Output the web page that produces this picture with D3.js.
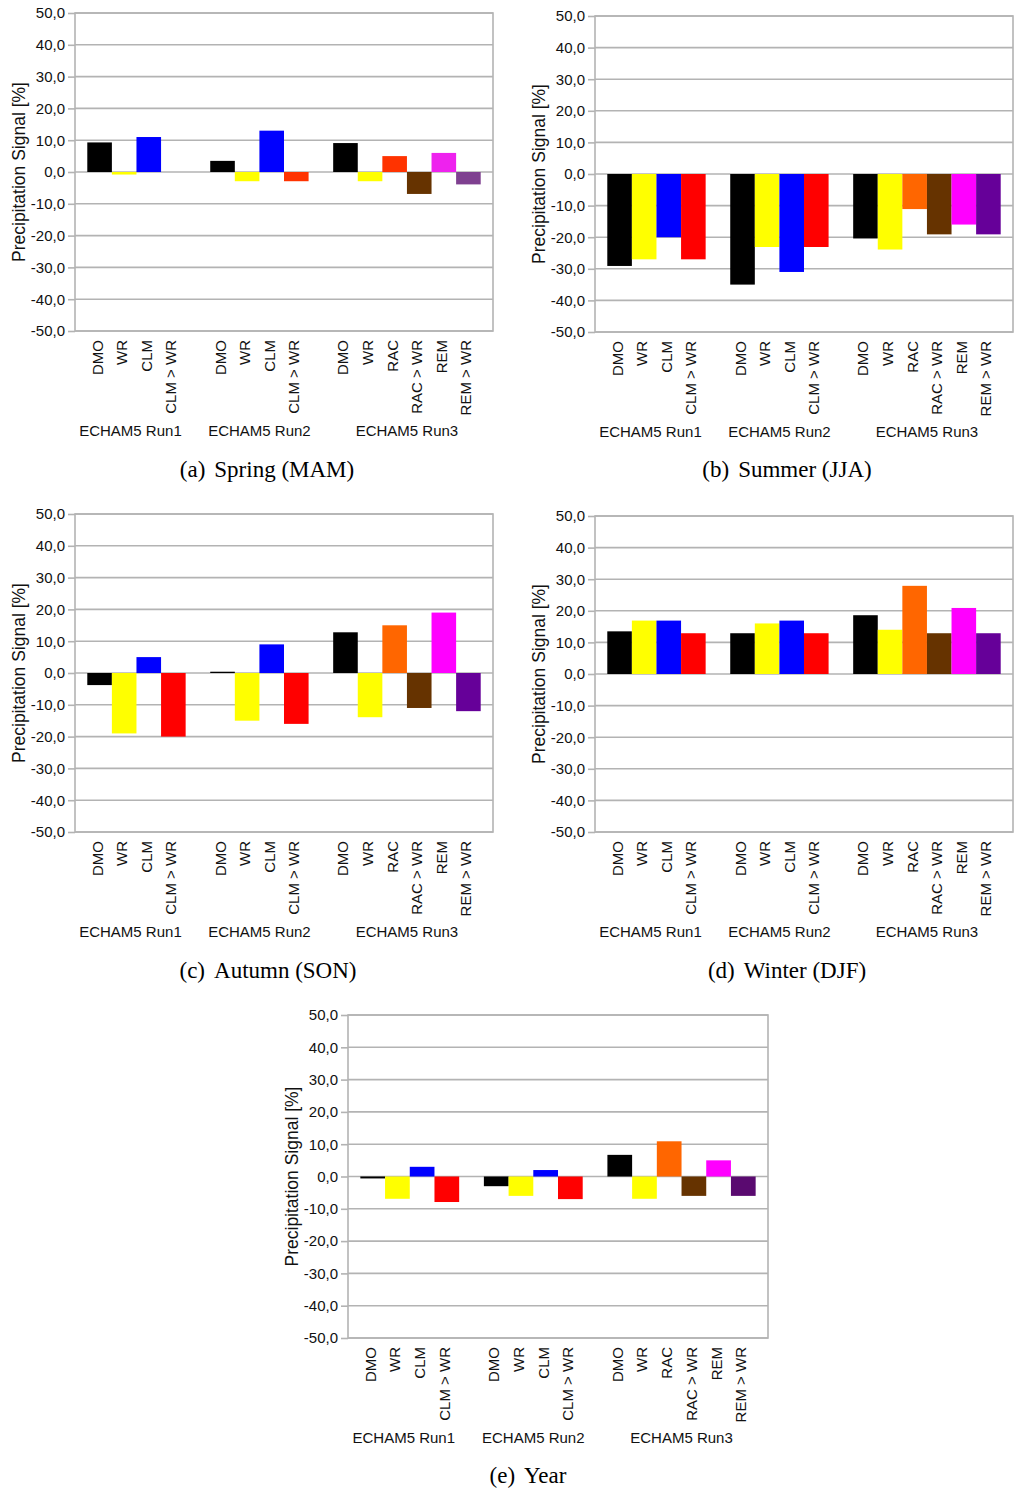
<!DOCTYPE html>
<html>
<head>
<meta charset="utf-8">
<script src="https://cdn.jsdelivr.net/npm/d3@7"></script>
<style>
  body { margin: 0; background: #fff; }
  svg { display: block; }
</style>
</head>
<body>
<svg id="chart" width="1024" height="1498"></svg>
<script>
// bar labels per run
var run1Labels = ["DMO", "WR", "CLM", "CLM > WR"];
var run2Labels = ["DMO", "WR", "CLM", "CLM > WR"];
var run3Labels = ["DMO", "WR", "RAC", "RAC > WR", "REM", "REM > WR"];
var groupNames = ["ECHAM5 Run1", "ECHAM5 Run2", "ECHAM5 Run3"];

// y axis ticks
var yTicks = [-50, -40, -30, -20, -10, 0, 10, 20, 30, 40, 50];

// precipitation signal [%], order: run1, run2, run3
var springValues = [9.3, -0.8, 11.0, 0, 3.5, -2.9, 13.0, -2.9, 9.1, -2.9, 5.0, -6.9, 6.0, -3.9];
var summerValues = [-29.1, -27.0, -20.0, -27.0, -35.0, -23.1, -31.0, -23.1, -20.4, -23.9, -11.1, -19.1, -16.0, -19.1];
var autumnValues = [-3.8, -19.0, 5.0, -20.0, 0.4, -15.0, 9.0, -16.0, 12.8, -13.9, 15.0, -11.0, 19.0, -12.0];
var winterValues = [13.5, 16.9, 16.9, 12.9, 12.9, 16.0, 16.9, 12.9, 18.6, 14.0, 27.9, 12.9, 20.9, 12.9];
var yearValues = [-0.6, -6.9, 3.0, -7.9, -3.0, -6.0, 2.0, -7.0, 6.7, -6.9, 10.9, -6.0, 5.0, -6.0];

var baseColors = {
  "DMO": "#000000", "WR": "#ffff00", "CLM": "#0000ff", "CLM > WR": "#ff0000",
  "RAC": "#ff6600", "RAC > WR": "#663300", "REM": "#ff00ff", "REM > WR": "#660099"
};

var locale = d3.formatLocale({ decimal: ",", thousands: ".", grouping: [3], currency: ["", ""], minus: "-" });
var fmt = locale.format(".1f");

var svg = d3.select("#chart");
var gridColor = "#b3b3b3";
var sans = "'Liberation Sans', Arial, sans-serif";
var serif = "'Liberation Serif', 'Times New Roman', serif";

function drawPanel(p) {
  var w = p.right - p.left, h = p.bottom - p.top;

  // build slots: bars plus one empty slot between runs
  var slots = [];
  [run1Labels, run2Labels, run3Labels].forEach(function(labels, gi) {
    if (gi > 0) slots.push({ key: "gap" + gi, gap: true });
    labels.forEach(function(l, i) {
      slots.push({ key: "g" + gi + "_" + i, label: l, group: gi });
    });
  });
  var vi = 0;
  slots.forEach(function(s) { if (!s.gap) s.value = p.values[vi++]; });
  var bars = slots.filter(function(s) { return !s.gap; });

  var x = d3.scaleBand().domain(slots.map(function(s) { return s.key; }))
    .range([0, w]).paddingInner(0).paddingOuter(0.5);
  var y = d3.scaleLinear().domain([-50, 50]).range([h, 0]);

  var g = svg.append("g").attr("transform", "translate(" + p.left + "," + p.top + ")");

  // grid
  g.selectAll(".grid").data(yTicks).enter().append("line")
    .attr("x1", 0).attr("x2", w)
    .attr("y1", function(d) { return y(d); }).attr("y2", function(d) { return y(d); })
    .attr("stroke", gridColor).attr("stroke-width", 1.6);

  // bars
  var colors = Object.assign({}, baseColors, p.colors || {});
  g.selectAll(".bar").data(bars).enter().append("rect")
    .attr("x", function(d) { return x(d.key); })
    .attr("width", x.bandwidth())
    .attr("y", function(d) { return y(Math.max(0, d.value)); })
    .attr("height", function(d) { return Math.abs(y(d.value) - y(0)); })
    .attr("fill", function(d) { return colors[d.label]; });

  // frame
  g.append("rect").attr("width", w).attr("height", h)
    .attr("fill", "none").attr("stroke", gridColor).attr("stroke-width", 1.6);

  // y axis
  var yAxis = g.append("g").call(d3.axisLeft(y).tickValues(yTicks).tickSize(7).tickPadding(3).tickFormat(fmt));
  yAxis.select(".domain").remove();
  yAxis.selectAll(".tick line").attr("stroke", gridColor).attr("stroke-width", 1.6);
  yAxis.selectAll(".tick text").attr("font-family", sans).attr("font-size", 15).attr("fill", "#111");

  g.append("text")
    .attr("transform", "translate(-50," + (h / 2) + ") rotate(-90)")
    .attr("text-anchor", "middle")
    .attr("font-family", sans).attr("font-size", 17.5).attr("fill", "#111")
    .text("Precipitation Signal [%]");

  // category labels
  g.selectAll(".cat").data(bars).enter().append("text")
    .attr("transform", function(d) {
      return "translate(" + (x(d.key) + x.bandwidth() / 2 + 3) + "," + (h + 9) + ") rotate(-90)";
    })
    .attr("text-anchor", "end")
    .attr("font-family", sans).attr("font-size", 15).attr("fill", "#111")
    .text(function(d) { return d.label; });

  // run labels
  groupNames.forEach(function(name, gi) {
    var gb = bars.filter(function(d) { return d.group === gi; });
    var x0 = x(gb[0].key), x1 = x(gb[gb.length - 1].key) + x.bandwidth();
    g.append("text")
      .attr("x", (x0 + x1) / 2 - (gi === 0 ? 6 : 0)).attr("y", h + 105)
      .attr("text-anchor", "middle")
      .attr("font-family", sans).attr("font-size", 15).attr("fill", "#111")
      .text(name);
  });

  // caption
  var cap = svg.append("text")
    .attr("x", p.capX).attr("y", p.capY)
    .attr("text-anchor", "middle")
    .attr("font-family", serif).attr("font-size", 23).attr("fill", "#000");
  cap.append("tspan").text(p.tag);
  cap.append("tspan").attr("dx", 9).text(p.caption);
}

drawPanel({ values: springValues, left: 75, right: 493, top: 13, bottom: 331,
  tag: "(a)", caption: "Spring (MAM)", capX: 267, capY: 477,
  colors: { "CLM > WR": "#ff3300", "RAC": "#ff3300", "REM": "#ee22ee", "REM > WR": "#7f4090" } });
drawPanel({ values: summerValues, left: 595, right: 1013, top: 16, bottom: 332,
  tag: "(b)", caption: "Summer (JJA)", capX: 787, capY: 477 });
drawPanel({ values: autumnValues, left: 75, right: 493, top: 514, bottom: 832,
  tag: "(c)", caption: "Autumn (SON)", capX: 268, capY: 978 });
drawPanel({ values: winterValues, left: 595, right: 1013, top: 516, bottom: 832,
  tag: "(d)", caption: "Winter (DJF)", capX: 787, capY: 978 });
drawPanel({ values: yearValues, left: 348, right: 768, top: 1015, bottom: 1338,
  tag: "(e)", caption: "Year", capX: 528, capY: 1483,
  colors: { "REM > WR": "#5a0a70" } });
</script>
</body>
</html>
